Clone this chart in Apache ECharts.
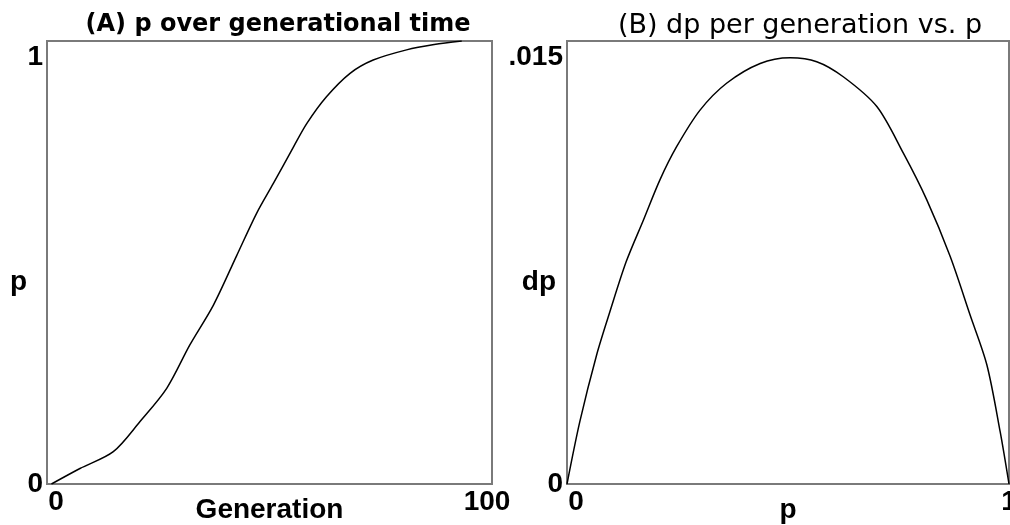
<!DOCTYPE html>
<html><head><meta charset="utf-8">
<script src="https://cdn.jsdelivr.net/npm/echarts@6/dist/echarts.min.js"></script>
<style>html,body{margin:0;padding:0;background:#fff}#c{width:1010px;height:525px}</style>
</head><body><div id="c"></div>
<script>
// Panel A: p over generational time
const genA = [1, 7.4, 14.9, 20.9, 26.9, 32.1, 37.4, 42.6, 47.1, 50.9, 55.4, 58.4, 62.8, 68.1, 73.3, 80.8, 87, 93.2];
const pA   = [0, 0.035, 0.073, 0.141, 0.216, 0.314, 0.404, 0.515, 0.611, 0.679, 0.761, 0.814, 0.874, 0.927, 0.957, 0.980, 0.992, 1.0];
// Panel B: dp per generation vs p
const pB  = [0, 0.029, 0.067, 0.097, 0.134, 0.173, 0.210, 0.248, 0.301, 0.361, 0.437, 0.505, 0.565, 0.625, 0.701, 0.761, 0.814, 0.867, 0.912, 0.950, 0.980, 1.0];
const dpB = [0, 0.00211, 0.00437, 0.00583, 0.00753, 0.00894, 0.01029, 0.01142, 0.01266, 0.01357, 0.01424, 0.01443, 0.0143, 0.01379, 0.01278, 0.0112, 0.00962, 0.0077, 0.00572, 0.00403, 0.00177, 0];
const titles = ['(A) p over generational time', '(B) dp per generation vs. p'];
const xNames = ['Generation', 'p'];
const yNames = ['p', 'dp'];

const FONT = 'Liberation Sans';
const TFONT = 'DejaVu Sans';
const frame = '#7a7a7a';
const lbl = {fontFamily: FONT, fontWeight: 'bold', fontSize: 28, color: '#000'};

function richLabels() {
  return {
    n: Object.assign({}, lbl),
    top: Object.assign({padding: [32, 0, 0, 0]}, lbl),
    left: Object.assign({padding: [0, 0, 0, 18]}, lbl),
    right: Object.assign({padding: [0, 10, 0, 0]}, lbl)
  };
}
const nameStyleY = Object.assign({rich: {s: Object.assign({padding: [40, 0, 0, 0]}, lbl)}}, lbl);

const chart = echarts.init(document.getElementById('c'));
chart.setOption({
  animation: false,
  title: [
    {text: titles[0], left: 273, top: 8, textAlign: 'center',
     textStyle: {fontFamily: TFONT, fontWeight: 'bold', fontSize: 24, color: '#000'}},
    {text: titles[1], left: 795, top: 7, textAlign: 'center',
     textStyle: {fontFamily: TFONT, fontWeight: 'normal', fontSize: 27, color: '#000'}}
  ],
  grid: [
    {left: 47, right: 518, top: 41, bottom: 41, show: true, borderColor: frame, borderWidth: 2,
     backgroundColor: '#fff', containLabel: false, outerBoundsMode: 'none'},
    {left: 567, right: 1, top: 41, bottom: 41, show: true, borderColor: frame, borderWidth: 2,
     backgroundColor: '#fff', containLabel: false, outerBoundsMode: 'none'}
  ],
  xAxis: [
    {type: 'value', gridIndex: 0, min: 0, max: 100, interval: 100,
     axisLine: {show: false}, axisTick: {show: false}, splitLine: {show: false},
     axisLabel: {margin: 4, formatter: v => v === 0 ? '{left|0}' : '{right|' + v + '}', rich: richLabels()},
     name: xNames[0], nameLocation: 'middle', nameGap: 12, nameMoveOverlap: false,
     nameTextStyle: Object.assign({}, lbl)},
    {type: 'value', gridIndex: 1, min: 0, max: 1, interval: 1,
     axisLine: {show: false}, axisTick: {show: false}, splitLine: {show: false},
     axisLabel: {margin: 4, formatter: v => v === 0 ? '{left|0}' : '{n|' + v + '}', rich: richLabels()},
     name: xNames[1], nameLocation: 'middle', nameGap: 12, nameMoveOverlap: false,
     nameTextStyle: Object.assign({}, lbl)}
  ],
  yAxis: [
    {type: 'value', gridIndex: 0, min: 0, max: 1, interval: 1,
     axisLine: {show: false}, axisTick: {show: false}, splitLine: {show: false},
     axisLabel: {margin: 4, formatter: v => v === 1 ? '{top|1}' : '{n|' + v + '}', rich: richLabels()},
     name: '{s|' + yNames[0] + '}', nameLocation: 'middle', nameRotate: 0, nameGap: 20, nameMoveOverlap: false,
     nameTextStyle: nameStyleY},
    {type: 'value', gridIndex: 1, min: 0, max: 0.015, interval: 0.015,
     axisLine: {show: false}, axisTick: {show: false}, splitLine: {show: false},
     axisLabel: {margin: 4, formatter: v => v === 0 ? '{n|0}' : '{top|.015}', rich: richLabels()},
     name: '{s|' + yNames[1] + '}', nameLocation: 'middle', nameRotate: 0, nameGap: 11, nameMoveOverlap: false,
     nameTextStyle: nameStyleY}
  ],
  series: [
    {type: 'line', xAxisIndex: 0, yAxisIndex: 0, data: genA.map((g, i) => [g, pA[i]]),
     smooth: 0.3, showSymbol: false, lineStyle: {color: '#000', width: 1.5}},
    {type: 'line', xAxisIndex: 1, yAxisIndex: 1, data: pB.map((p, i) => [p, dpB[i]]),
     smooth: 0.3, showSymbol: false, lineStyle: {color: '#000', width: 1.5}}
  ]
});
</script></body></html>
